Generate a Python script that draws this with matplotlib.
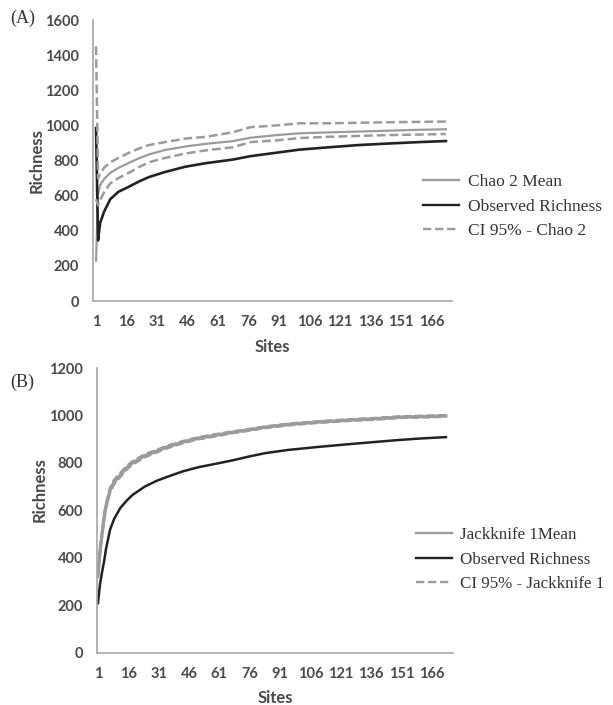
import matplotlib
matplotlib.use("Agg")
import matplotlib.pyplot as plt

# (A) Chao 2
sites_a = [1, 2, 3, 5, 8, 12, 17, 22, 27, 35, 45, 55, 68, 77, 90, 101, 115, 130, 145, 160, 173]
obs_a = [985, 345, 444, 510, 580, 622, 650, 680, 706, 735, 765, 785, 805, 825, 845, 862, 875, 888, 897, 905, 911]
chao_mean = [230, 610, 660, 695, 730, 758, 786, 812, 835, 860, 880, 895, 910, 930, 945, 955, 960, 965, 970, 975, 978]
chao_up = [1450, 700, 725, 760, 790, 815, 843, 868, 888, 905, 925, 935, 960, 990, 1000, 1012, 1012, 1015, 1018, 1020, 1022]
chao_low = [580, 545, 575, 620, 670, 700, 729, 762, 790, 815, 840, 858, 875, 905, 915, 928, 935, 940, 945, 948, 951]

# (B) Jackknife 1
sites_b = [1, 2, 3, 4, 5, 7, 9, 12, 15, 18, 24, 30, 35, 43, 51, 60, 68, 76, 84, 95, 109, 126, 140, 150, 160, 173]
obs_b = [210, 290, 340, 385, 440, 520, 565, 610, 640, 665, 700, 725, 741, 765, 783, 798, 812, 828, 842, 855, 867, 880, 890, 897, 903, 909]
jack_mean = [330, 430, 500, 570, 620, 686, 720, 749, 778, 800, 830, 850, 867, 888, 905, 918, 930, 940, 951, 962, 972, 981, 987, 993, 995, 998]
jack_up = [345, 445, 515, 585, 633, 698, 731, 759, 787, 808, 837, 856, 873, 893, 910, 923, 934, 944, 955, 966, 976, 985, 991, 997, 999, 1002]
jack_low = [315, 415, 486, 556, 608, 675, 710, 740, 770, 792, 823, 844, 861, 883, 900, 913, 926, 936, 947, 958, 968, 977, 983, 989, 991, 994]

xticks = list(range(1, 167, 15))
grey = "#9b9b9b"
black = "#222222"
txt = "#4a4a4a"
tick_font = "Lato"
serif = "Liberation Serif"

fig = plt.figure(figsize=(6.13, 7.05), dpi=100)
ax1 = fig.add_axes([0.1517, 0.5730, 0.5857, 0.3986])
ax2 = fig.add_axes([0.1582, 0.0738, 0.5808, 0.4042])


def style(ax, ylim, ystep, xlim):
    for s in ["top", "right"]:
        ax.spines[s].set_visible(False)
    for s in ["left", "bottom"]:
        ax.spines[s].set_color("#a6a6a6")
        ax.spines[s].set_linewidth(1.2)
    ax.set_ylim(*ylim)
    ax.set_xlim(*xlim)
    ax.set_yticks(range(0, ylim[1] + 1, ystep))
    ax.set_xticks(xticks)
    ax.tick_params(length=0, colors=txt, labelsize=10.5)
    ax.tick_params(axis="x", pad=10)
    ax.tick_params(axis="y", pad=10)
    for lab in ax.get_xticklabels() + ax.get_yticklabels():
        lab.set_family(tick_font)
        lab.set_weight("bold")
    ax.set_xlabel("Sites", fontsize=12, fontweight="bold", color=txt, family=tick_font)
    ax.set_ylabel("Richness", fontsize=12, fontweight="bold", color=txt, family=tick_font)


dash = (0, (3.5, 1.6))

# panel A
ax1.plot(sites_a, chao_mean, color=grey, lw=1.6, label="Chao 2 Mean")
ax1.plot(sites_a, obs_a, color=black, lw=1.9, label="Observed Richness")
ax1.plot(sites_a, chao_up, color=grey, lw=1.8, ls=dash, label="CI 95% - Chao 2")
ax1.plot(sites_a, chao_low, color=grey, lw=1.8, ls=dash)
style(ax1, (0, 1600), 200, (-0.5, 176))
ax1.xaxis.set_label_coords(0.5, -0.135)
ax1.yaxis.set_label_coords(-0.134, 0.5)

# panel B
ax2.plot(sites_b, jack_mean, color=grey, lw=2.4, label="Jackknife 1Mean")
ax2.plot(sites_b, obs_b, color=black, lw=1.8, label="Observed Richness")
ax2.plot(sites_b, jack_up, color=grey, lw=1.6, ls=dash, label="CI 95% - Jackknife 1")
ax2.plot(sites_b, jack_low, color=grey, lw=1.6, ls=dash)
style(ax2, (0, 1200), 200, (0.5, 176.5))
ax2.xaxis.set_label_coords(0.5, -0.13)
ax2.yaxis.set_label_coords(-0.14, 0.572)

for ax, xy, fs in [(ax1, (0.69, 0.707), 12.5), (ax2, (0.679, 0.206), 12.2)]:
    leg = ax.legend(loc="center left", bbox_to_anchor=xy, bbox_transform=fig.transFigure,
                    frameon=False, prop={"family": serif, "size": fs}, labelcolor="#333333",
                    handlelength=2.1, handletextpad=0.5, labelspacing=0.5, borderpad=0,
                    borderaxespad=0)
    for h in leg.get_lines():
        h.set_linewidth(1.7)

fig.text(0.016, 0.974, "(A)", family=serif, fontsize=13, color="#333333", va="center")
fig.text(0.016, 0.457, "(B)", family=serif, fontsize=13, color="#333333", va="center")

fig.savefig("out.png", dpi=100)
